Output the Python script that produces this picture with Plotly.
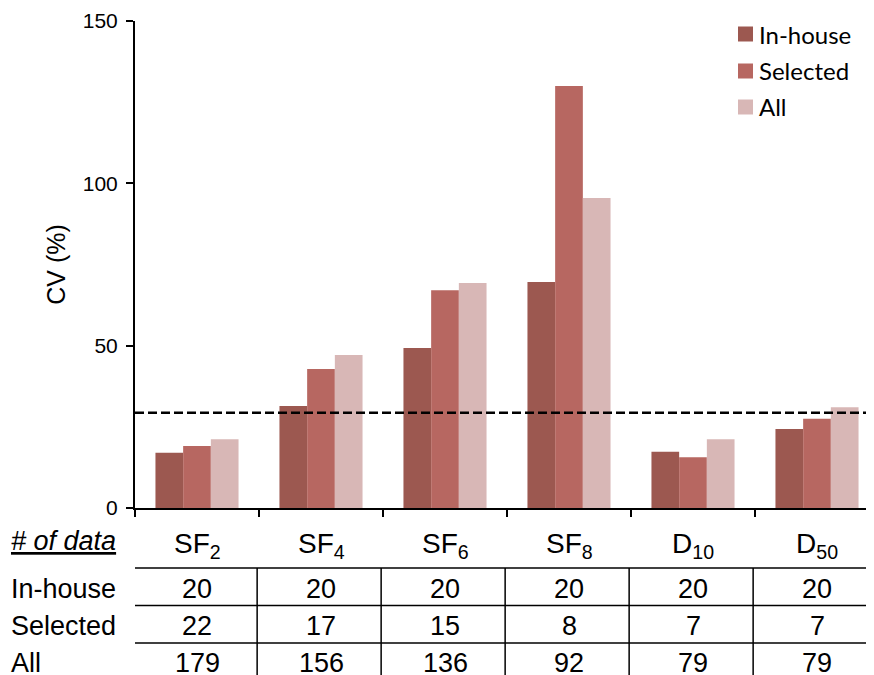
import plotly.graph_objects as go

categories = ["SF2", "SF4", "SF6", "SF8", "D10", "D50"]
cat_labels = ["SF<sub>2</sub>", "SF<sub>4</sub>", "SF<sub>6</sub>", "SF<sub>8</sub>", "D<sub>10</sub>", "D<sub>50</sub>"]
inhouse_cv = [17.0, 31.4, 49.3, 69.6, 17.3, 24.3]
selected_cv = [19.1, 42.8, 67.1, 130.0, 15.6, 27.5]
all_cv = [21.2, 47.1, 69.3, 95.5, 21.2, 31.0]
threshold = 29.3

series_names = ["In-house", "Selected", "All"]
n_inhouse = [20, 20, 20, 20, 20, 20]
n_selected = [22, 17, 15, 8, 7, 7]
n_all = [179, 156, 136, 92, 79, 79]

colors = {"In-house": "#9c5850", "Selected": "#b76761", "All": "#d8b7b6"}
FONT = "Liberation Sans, Arial, sans-serif"
LEG_FONT = "Lato, Open Sans, sans-serif"

fig = go.Figure()
for name, vals in zip(series_names, [inhouse_cv, selected_cv, all_cv]):
    fig.add_trace(go.Bar(x=categories, y=vals, name=name, showlegend=False,
                         marker=dict(color=colors[name], line=dict(width=0))))

# page offset of the figure (browser body margin)
OFF = 8
PW, PH = 874, 675
W, H = PW - OFF, PH - OFF
AX_X, AX_TOP, AX_BOT = 135, 21, 508  # page pixels of plot area
L, T = AX_X - OFF, AX_TOP - OFF
B = PH - AX_BOT
plot_h = AX_BOT - AX_TOP
plot_w = PW - AX_X
cat_w = 124.0
x_max = -0.5 + plot_w / cat_w

def py(pix):
    return (AX_BOT - pix) / plot_h

def px(pix):
    return (pix - AX_X) / plot_w

shapes = []
shapes.append(dict(type="line", xref="paper", yref="y", x0=0, x1=1, y0=threshold, y1=threshold,
                   line=dict(color="black", width=2.5, dash="9px,4px")))
for pix in [568, 605.5, 643]:
    shapes.append(dict(type="line", xref="x", yref="paper", x0=-0.52, x1=x_max + 0.1,
                       y0=py(pix), y1=py(pix), line=dict(color="black", width=1.5)))
for i in range(len(categories) + 1):
    xb = i - 0.515
    shapes.append(dict(type="line", xref="x", yref="paper", x0=xb, x1=xb,
                       y0=py(568), y1=py(PH + 5), line=dict(color="black", width=1.5)))

annotations = []
# manual legend
leg_y = [34, 71, 107]
for name, yy in zip(series_names, leg_y):
    shapes.append(dict(type="rect", xref="paper", yref="paper",
                       x0=px(738), x1=px(753), y0=py(yy - 7.5), y1=py(yy + 7.5),
                       fillcolor=colors[name], line=dict(width=0)))
    annotations.append(dict(x=px(757), xref="paper", y=py(yy), yref="paper", text=name,
                            showarrow=False, xanchor="left", yanchor="middle",
                            font=dict(family=LEG_FONT, size=24, color="black")))

for i, lab in enumerate(cat_labels):
    annotations.append(dict(x=categories[i], xref="x", y=py(545), yref="paper", text=lab,
                            showarrow=False, xanchor="center", yanchor="middle",
                            font=dict(family=FONT, size=28, color="black")))
annotations.append(dict(x=px(9), xref="paper", y=py(541), yref="paper",
                        text="<i><u># of data</u></i>", showarrow=False, xanchor="left",
                        yanchor="middle", font=dict(family=FONT, size=27, color="black")))
row_y = [589, 626, 663]
for r, (rname, vals) in enumerate(zip(series_names, [n_inhouse, n_selected, n_all])):
    annotations.append(dict(x=px(9), xref="paper", y=py(row_y[r]), yref="paper",
                            text=rname, showarrow=False, xanchor="left", yanchor="middle",
                            font=dict(family=FONT, size=27, color="black")))
    for i, v in enumerate(vals):
        annotations.append(dict(x=categories[i], xref="x", y=py(row_y[r]), yref="paper",
                                text=str(v), showarrow=False, xanchor="center", yanchor="middle",
                                font=dict(family=FONT, size=27, color="black")))

fig.update_layout(
    width=W, height=H,
    margin=dict(l=L, r=0, t=T, b=B, pad=0),
    paper_bgcolor="white", plot_bgcolor="white",
    barmode="group", bargap=0.33, bargroupgap=0,
    shapes=shapes, annotations=annotations,
    showlegend=False,
    xaxis=dict(type="category", range=[-0.5, x_max], showgrid=False, showline=True,
               linecolor="black", linewidth=2, ticks="outside", tickson="boundaries",
               ticklen=7, tickwidth=2, tickcolor="black", showticklabels=False),
    yaxis=dict(range=[0, 150], tickvals=[0, 50, 100, 150], showgrid=False, zeroline=False,
               showline=True, linecolor="black", linewidth=2, ticks="outside", ticklen=7,
               tickwidth=2, tickcolor="black", ticklabelstandoff=4,
               tickfont=dict(family=FONT, size=21, color="black"),
               title=dict(text="CV (%)", font=dict(family=FONT, size=25, color="black"), standoff=10)),
)

fig.write_html("out.html")
